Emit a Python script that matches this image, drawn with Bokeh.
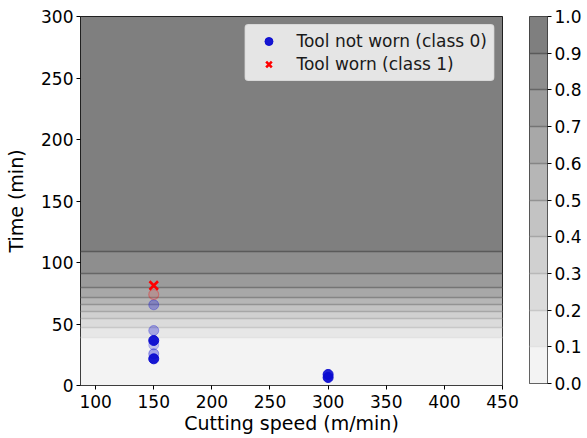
from bokeh.plotting import figure
from bokeh.layouts import row
from bokeh.models import ColumnDataSource, FixedTicker, PrintfTickFormatter, Range1d, Legend, LegendItem
from bokeh.embed import file_html
from bokeh.resources import INLINE

# Probability of tool wear: time (min) at which each contour level is reached
prob_levels = [0.0, 0.1, 0.2, 0.3, 0.4, 0.5, 0.6, 0.7, 0.8, 0.9, 1.0]
level_times = [0.0, 39.3, 47.4, 54.2, 59.9, 65.6, 71.8, 79.7, 90.8, 109.0, 300.0]

# Observations: tool not worn (class 0)
speed_0 = [150, 150, 150, 150, 150, 150, 300, 300]
time_0 = [21.7, 25.8, 33.0, 36.6, 44.7, 65.6, 6.5, 9.0]
# Observations: tool worn (class 1)
speed_1 = [150]
time_1 = [81.3]
speed_1b = [150]
time_1b = [74.0]

# Styling
band_colors = ["#f3f3f3", "#e7e7e7", "#dbdbdb", "#d0d0d0", "#c3c3c3",
               "#b6b6b6", "#a8a8a8", "#9b9b9b", "#8e8e8e", "#7f7f7f"]
line_colors = ["#e2e2e2", "#c8c8c8", "#b8b8b8", "#a6a6a6", "#939393",
               "#858585", "#747474", "#666666", "#5a5a5a"]
alpha_0 = [0.95, 0.35, 0.22, 0.95, 0.3, 0.3, 0.95, 0.9]
BLUE = "#0a0ad0"

FONT = "DejaVu Sans"
TICK = "17px"
LABEL = "19px"

p = figure(frame_width=422, frame_height=369, width=520, height=438,
           x_range=Range1d(87, 450), y_range=Range1d(0, 300),
           min_border_left=80, min_border_right=18, min_border_top=16, min_border_bottom=53,
           output_backend="svg", toolbar_location=None)
p.background_fill_color = "white"
p.border_fill_color = "white"
p.grid.visible = False
p.outline_line_color = "black"
p.outline_line_width = 1

# Filled probability bands
for i in range(len(band_colors)):
    p.hstrip(y0=[level_times[i]], y1=[level_times[i + 1]],
             fill_color=band_colors[i], line_color=None)
# Contour lines between bands
for i in range(1, len(level_times) - 1):
    p.hspan(y=[level_times[i]], line_color=line_colors[i - 1], line_width=1.6)

src0 = ColumnDataSource(dict(x=speed_0, y=time_0, a=alpha_0))
r0 = p.scatter("x", "y", source=src0, marker="circle", size=10,
               fill_color=BLUE, line_color=BLUE, fill_alpha="a", line_alpha="a")
p.scatter(speed_1b, time_1b, marker="circle", size=10, fill_color="red",
          fill_alpha=0.12, line_color="red", line_alpha=0.3, line_width=1.2)
r1 = p.scatter(speed_1, time_1, marker="x", size=12, line_color="red", line_width=2.6)

legend = Legend(items=[LegendItem(label="Tool not worn (class 0)", renderers=[r0], index=0),
                       LegendItem(label="Tool worn (class 1)", renderers=[r1])],
                location="top_right")
legend.margin = 8
legend.padding = 6
legend.spacing = 3
legend.label_height = 20
legend.glyph_width = 34
legend.label_standoff = 11
legend.label_text_font = FONT
legend.label_text_font_size = TICK
legend.label_text_color = "#1a1a1a"
legend.background_fill_color = "white"
legend.background_fill_alpha = 0.8
legend.border_line_color = "#cccccc"
legend.border_line_width = 1
legend.border_radius = 4
p.add_layout(legend)

p.xaxis.ticker = FixedTicker(ticks=[100, 150, 200, 250, 300, 350, 400, 450])
p.yaxis.ticker = FixedTicker(ticks=[0, 50, 100, 150, 200, 250, 300])
p.xaxis.axis_label = "Cutting speed (m/min)"
p.yaxis.axis_label = "Time (min)"
for ax in (p.xaxis, p.yaxis):
    ax.major_label_text_font = FONT
    ax.major_label_text_font_size = TICK
    ax.major_label_text_color = "black"
    ax.axis_label_text_font = FONT
    ax.axis_label_text_font_size = LABEL
    ax.axis_label_text_font_style = "normal"
    ax.axis_label_text_color = "black"
    ax.major_tick_out = 4
    ax.major_tick_in = 0
    ax.minor_tick_out = 0
    ax.minor_tick_in = 0
    ax.axis_line_color = None
    ax.major_tick_line_color = "black"
p.xaxis.major_label_standoff = 5
p.yaxis.major_label_standoff = 3
p.xaxis.axis_label_standoff = 1
p.yaxis.axis_label_standoff = 11

# Colour bar as a narrow figure with its own right-hand axis
cb = figure(frame_width=18, frame_height=367, width=67, height=438,
            x_range=Range1d(0, 1), y_range=Range1d(0, 1),
            min_border_left=9, min_border_right=40, min_border_top=16, min_border_bottom=55,
            output_backend="svg", toolbar_location=None, y_axis_location="right")
cb.xaxis.visible = False
cb.grid.visible = False
cb.outline_line_color = "#333333"
cb.outline_line_width = 1
for i in range(len(band_colors)):
    cb.hstrip(y0=[prob_levels[i]], y1=[prob_levels[i + 1]],
              fill_color=band_colors[i], line_color=None)
for i in range(1, len(prob_levels) - 1):
    cb.hspan(y=[prob_levels[i]], line_color=line_colors[i - 1], line_width=1.4)
ya = cb.yaxis[0]
ya.ticker = FixedTicker(ticks=prob_levels)
ya.formatter = PrintfTickFormatter(format="%.1f")
ya.major_label_text_font = FONT
ya.major_label_text_font_size = TICK
ya.major_label_text_color = "black"
ya.major_tick_out = 4
ya.major_tick_in = 0
ya.minor_tick_out = 0
ya.minor_tick_in = 0
ya.axis_line_color = None
ya.major_label_standoff = 3

layout = row(p, cb, spacing=0)
open("out.html", "w").write(file_html(layout, INLINE))
